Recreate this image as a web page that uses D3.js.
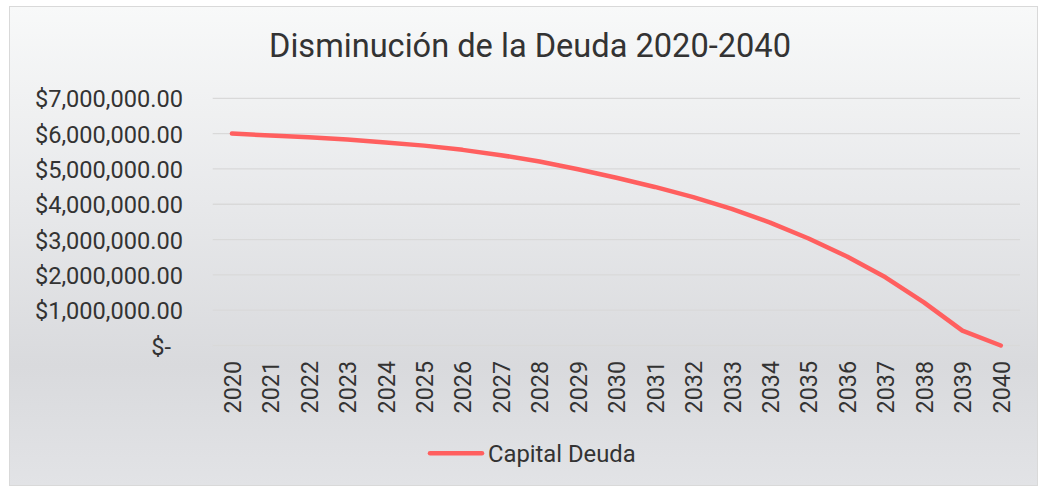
<!DOCTYPE html>
<html>
<head>
<meta charset="utf-8">
<script src="https://cdn.jsdelivr.net/npm/d3@7"></script>
<style>
  html, body { margin: 0; padding: 0; background: #ffffff; }
  svg { display: block; font-family: Roboto, "Noto Sans", sans-serif; }
</style>
</head>
<body>
<svg id="chart" width="1039" height="487"></svg>
<script>
// Debt balance per year (remaining principal)
const years = ["2020","2021","2022","2023","2024","2025","2026","2027","2028","2029","2030",
               "2031","2032","2033","2034","2035","2036","2037","2038","2039","2040"];
const capitalDeuda = [6000000, 5950000, 5900000, 5830000, 5750000, 5660000, 5540000, 5390000,
                      5210000, 4990000, 4750000, 4490000, 4200000, 3870000, 3480000, 3030000,
                      2520000, 1930000, 1220000, 420000, 0];
const yTicks = [0, 1000000, 2000000, 3000000, 4000000, 5000000, 6000000, 7000000];
const seriesName = "Capital Deuda";
const titleText = "Disminución de la Deuda 2020-2040";

const svg = d3.select("#chart");

// Chart area background with soft vertical gradient
const defs = svg.append("defs");
const grad = defs.append("linearGradient")
  .attr("id", "bgGrad").attr("x1", 0).attr("y1", 0).attr("x2", 0).attr("y2", 1);
grad.append("stop").attr("offset", "0%").attr("stop-color", "#f8f9f9");
grad.append("stop").attr("offset", "40%").attr("stop-color", "#e8e9eb");
grad.append("stop").attr("offset", "75%").attr("stop-color", "#d9dadd");
grad.append("stop").attr("offset", "100%").attr("stop-color", "#e2e3e6");

svg.append("rect")
  .attr("x", 9.5).attr("y", 6.5)
  .attr("width", 1028).attr("height", 479)
  .attr("fill", "url(#bgGrad)")
  .attr("stroke", "#d9d9d9").attr("stroke-width", 1);

// Scales
const x = d3.scalePoint().domain(years).range([212.7, 1020]).padding(0.5);
const y = d3.scaleLinear().domain([0, 7000000]).range([345.5, 98.3]);

// Gridlines
svg.append("g")
  .selectAll("line")
  .data(yTicks)
  .join("line")
  .attr("x1", 212.7).attr("x2", 1020)
  .attr("y1", d => y(d)).attr("y2", d => y(d))
  .attr("stroke", "#d9d9d9").attr("stroke-width", 1.3);

// Y axis labels
const money = d3.format("$,.2f");
const yAxis = d3.axisLeft(y)
  .tickValues(yTicks)
  .tickSize(0)
  .tickPadding(0)
  .tickFormat(d => d === 0 ? "$-" : money(d));
const gy = svg.append("g").attr("transform", "translate(183,0)").call(yAxis);
gy.select(".domain").remove();
gy.selectAll("text")
  .attr("fill", "#333333")
  .attr("font-size", 23.6)
  .attr("font-family", "Roboto, sans-serif")
  .attr("dy", "0.36em")
  .attr("dx", d => d === 0 ? -12 : 0);

// X axis labels (rotated)
const xAxis = d3.axisBottom(x).tickSize(0).tickPadding(0);
const gx = svg.append("g").attr("transform", "translate(0,361)").call(xAxis);
gx.select(".domain").remove();
gx.selectAll("text")
  .attr("fill", "#333333")
  .attr("font-size", 23.3)
  .attr("font-family", "Roboto, sans-serif")
  .attr("text-anchor", "end")
  .attr("transform", "rotate(-90)")
  .attr("x", 0).attr("y", 0)
  .attr("dy", "0.36em");

// Line
const line = d3.line()
  .x((d, i) => x(years[i]))
  .y(d => y(d))
  .curve(d3.curveLinear);
svg.append("path")
  .datum(capitalDeuda)
  .attr("d", line)
  .attr("fill", "none")
  .attr("stroke", "#ff5f5f")
  .attr("stroke-width", 4.5)
  .attr("stroke-linecap", "round")
  .attr("stroke-linejoin", "round");

// Title
svg.append("text")
  .attr("x", 530).attr("y", 57)
  .attr("text-anchor", "middle")
  .attr("fill", "#333333")
  .attr("font-size", 32.6)
  .attr("font-family", "Roboto, sans-serif")
  .text(titleText);

// Legend
const lg = svg.append("g");
lg.append("line")
  .attr("x1", 430).attr("x2", 482)
  .attr("y1", 453.3).attr("y2", 453.3)
  .attr("stroke", "#ff5f5f").attr("stroke-width", 4.5)
  .attr("stroke-linecap", "round");
lg.append("text")
  .attr("x", 488).attr("y", 461.5)
  .attr("fill", "#333333")
  .attr("font-size", 23.8)
  .attr("font-family", "Roboto, sans-serif")
  .text(seriesName);
</script>
</body>
</html>
